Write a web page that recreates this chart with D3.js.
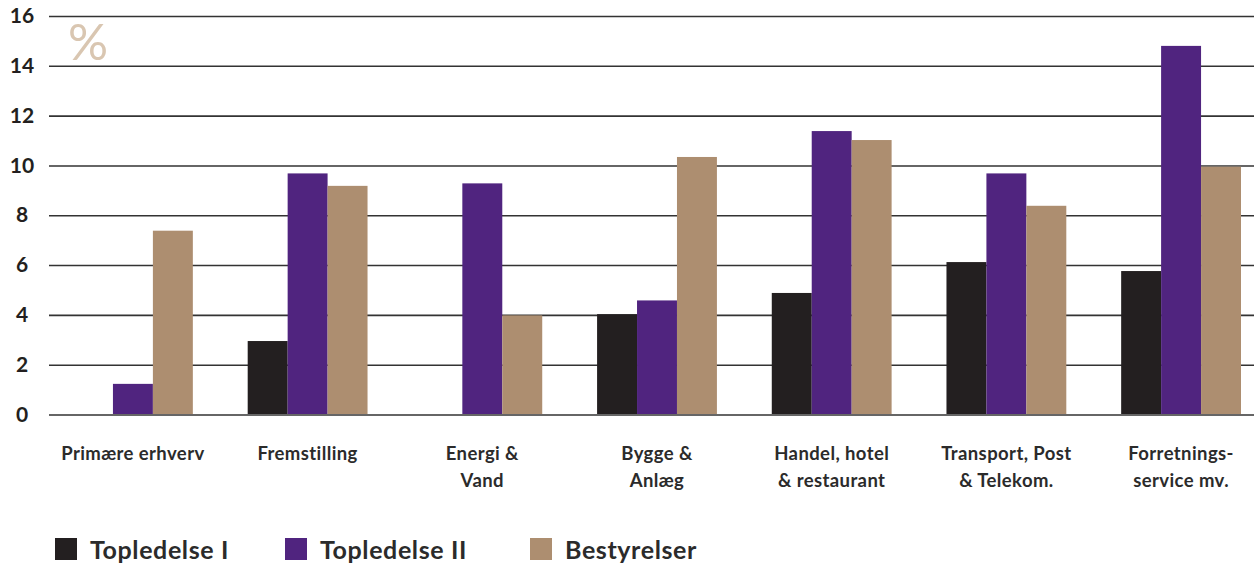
<!DOCTYPE html>
<html>
<head>
<meta charset="utf-8">
<script src="https://cdn.jsdelivr.net/npm/d3@7"></script>
<style>
  body { margin: 0; background: #fff; }
  svg text { font-family: Lato, "Open Sans", sans-serif; }
  .ytick text { font-weight: 700; font-size: 21px; fill: #231f20; }
  .cat text { font-weight: 700; font-size: 18.5px; fill: #2b2b2b; letter-spacing: 0.4px; }
  .legend text { font-weight: 700; font-size: 25px; fill: #2b2b2b; letter-spacing: 0.6px; }
</style>
</head>
<body>
<div id="chart"></div>
<script>
var categories = [
    ["Primære erhverv"],
    ["Fremstilling"],
    ["Energi &", "Vand"],
    ["Bygge &", "Anlæg"],
    ["Handel, hotel", "& restaurant"],
    ["Transport, Post", "& Telekom."],
    ["Forretnings-", "service mv."]
];
var seriesNames = ["Topledelse I", "Topledelse II", "Bestyrelser"];
var topledelse1 = [0, 2.97, 0, 4.05, 4.9, 6.14, 5.78];
var topledelse2 = [1.25, 9.7, 9.3, 4.6, 11.4, 9.7, 14.82];
var bestyrelser = [7.4, 9.2, 4.0, 10.36, 11.04, 8.4, 9.97];
var yTicks = [0, 2, 4, 6, 8, 10, 12, 14, 16];
var colors = ["#231f20", "#50247f", "#ad8e70"];

var width = 1254, height = 565;
var series = [topledelse1, topledelse2, bestyrelser];

var svg = d3.select("#chart").append("svg")
    .attr("width", width)
    .attr("height", height);

var y = d3.scaleLinear().domain([0, 16]).range([415, 16.5]);

var x = d3.scaleBand()
    .domain(d3.range(categories.length))
    .range([73, 1241])
    .paddingInner(0.314)
    .paddingOuter(0);

var xs = d3.scaleBand()
    .domain(d3.range(series.length))
    .range([0, x.bandwidth()]);

// gridlines
svg.append("g").selectAll("line")
    .data(yTicks.filter(function(d) { return d > 0; }))
    .enter().append("line")
    .attr("x1", 49).attr("x2", width)
    .attr("y1", function(d) { return y(d); })
    .attr("y2", function(d) { return y(d); })
    .attr("stroke", "#333")
    .attr("stroke-width", 1.6);

// y labels
var yt = svg.append("g").attr("class", "ytick");
yt.selectAll("text")
    .data(yTicks)
    .enter().append("text")
    .attr("x", 22)
    .attr("y", function(d) { return y(d); })
    .attr("dy", "0.32em")
    .attr("text-anchor", "middle")
    .text(function(d) { return d; });

// % sign
svg.append("text")
    .attr("x", 68).attr("y", 60)
    .attr("font-size", 50)
    .attr("font-weight", 400)
    .attr("fill", "#d9c6b1")
    .text("%");

// bars
var groups = svg.append("g").selectAll("g")
    .data(categories)
    .enter().append("g")
    .attr("transform", function(d, i) { return "translate(" + x(i) + ",0)"; });

groups.selectAll("rect")
    .data(function(d, i) { return series.map(function(s, j) { return { s: j, v: s[i] }; }); })
    .enter().append("rect")
    .attr("x", function(d) { return xs(d.s); })
    .attr("width", xs.bandwidth())
    .attr("y", function(d) { return y(d.v); })
    .attr("height", function(d) { return y(0) - y(d.v); })
    .attr("fill", function(d) { return colors[d.s]; });

// baseline
svg.append("line")
    .attr("x1", 49).attr("x2", width)
    .attr("y1", y(0)).attr("y2", y(0))
    .attr("stroke", "#666")
    .attr("stroke-width", 2);

// category labels
var cat = svg.append("g").attr("class", "cat");
categories.forEach(function(lines, i) {
    var t = cat.append("text")
        .attr("text-anchor", "middle")
        .attr("x", x(i) + x.bandwidth() / 2)
        .attr("y", 460);
    lines.forEach(function(l, k) {
        t.append("tspan")
            .attr("x", x(i) + x.bandwidth() / 2)
            .attr("dy", k === 0 ? 0 : 27)
            .text(l);
    });
});

// legend
var legendX = [55, 285, 530];
var lg = svg.append("g").attr("class", "legend").selectAll("g")
    .data(seriesNames)
    .enter().append("g")
    .attr("transform", function(d, i) { return "translate(" + legendX[i] + ",538)"; });
lg.append("rect")
    .attr("width", 22).attr("height", 22)
    .attr("fill", function(d, i) { return colors[i]; });
lg.append("text")
    .attr("x", 35).attr("y", 21)
    .text(function(d) { return d; });
</script>
</body>
</html>
